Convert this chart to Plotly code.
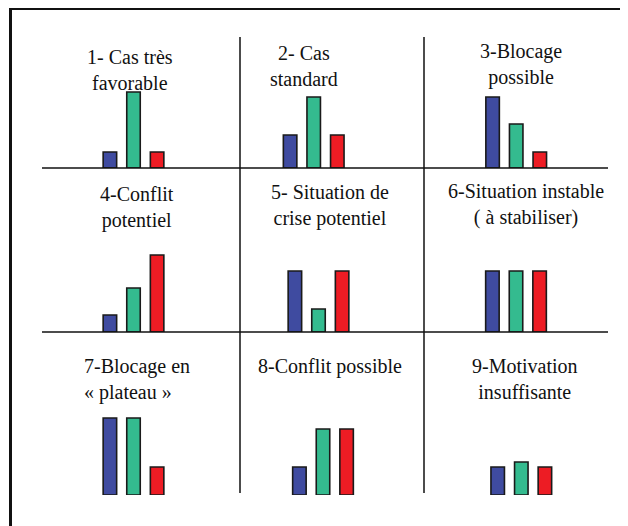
import plotly.graph_objects as go

# Données (hauteur relative des barres)
titres = [
    "1- Cas très<br>favorable",
    "2- Cas<br>standard",
    "3-Blocage<br>possible",
    "4-Conflit<br>potentiel",
    "5- Situation de<br>crise potentiel",
    "6-Situation instable<br>( à stabiliser)",
    "7-Blocage en<br>« plateau »",
    "8-Conflit possible",
    "9-Motivation<br>insuffisante",
]
bleu = [16, 33, 71, 17, 61, 61, 77, 28, 28]
vert = [76, 71, 44, 44, 23, 61, 77, 66, 33]
rouge = [16, 33, 16, 77, 61, 61, 28, 66, 28]

couleurs = ["#3f4ba0", "#34bb8f", "#ed1c24"]

# la page html ajoute une marge de 8 px autour de la figure
OX, OY = 8, 8
W, H = 628 - OX, 526 - OY


def px(x):
    return (x - OX) / W


def py(y):
    return 1 - (y - OY) / H


# mise en page (pixels de l'image de référence)
colonnes = [(42, 240), (240, 424), (424, 608)]
bases = [168, 332, 495]
centres = [133.5, 313.7, 516.2, 133.5, 318.5, 516.0, 133.5, 323.0, 521.3]
pas = 23.6
titre_pos = [
    (130, 69.5, "center"),
    (304, 65.5, "center"),
    (521, 64.5, "center"),
    (136.7, 207.5, "center"),
    (330, 205, "center"),
    (525.5, 204.5, "center"),
    (82, 379.5, "left"),
    (329.7, 366.7, "center"),
    (524.7, 379, "center"),
]

fig = go.Figure()
layout = {}
annotations = []

for i in range(9):
    ligne, col = divmod(i, 3)
    L, R = colonnes[col]
    b = bases[ligne]
    c = centres[i]
    n = "" if i == 0 else str(i + 1)

    fig.add_trace(
        go.Bar(
            x=[0, 1, 2],
            y=[bleu[i], vert[i], rouge[i]],
            width=13.5 / pas,
            marker=dict(color=couleurs, line=dict(color="#1a1a1a", width=1.6)),
            xaxis="x" + n,
            yaxis="y" + n,
            showlegend=False,
            hoverinfo="skip",
        )
    )
    layout["xaxis" + n] = dict(
        domain=[px(L), px(R)],
        range=[1 - (c - L) / pas, 1 + (R - c) / pas],
        visible=False,
        fixedrange=True,
        anchor="y" + n,
    )
    layout["yaxis" + n] = dict(
        domain=[py(b), py(b - 100)],
        range=[0, 100],
        visible=False,
        fixedrange=True,
        anchor="x" + n,
    )

    tx, ty, al = titre_pos[i]
    annotations.append(
        dict(
            text=titres[i],
            x=px(tx),
            y=py(ty),
            xref="paper",
            yref="paper",
            xanchor="center" if al == "center" else "left",
            yanchor="middle",
            align=al,
            showarrow=False,
            font=dict(family="Liberation Serif", size=20, color="#111111"),
        )
    )

# lignes de la grille et cadre
traits = [
    (240, 37, 240, 493, 1.5),
    (424, 37, 424, 493, 1.5),
    (42, 168, 608, 168, 1.5),
    (42, 332, 608, 332, 1.5),
    (9, 8.5, 628, 8.5, 3),
    (10.5, 7, 10.5, 526, 3),
]
shapes = [
    dict(
        type="line",
        xref="paper",
        yref="paper",
        x0=px(x0),
        x1=px(x1),
        y0=py(y0),
        y1=py(y1),
        line=dict(color="#111111", width=w),
    )
    for x0, y0, x1, y1, w in traits
]

fig.update_layout(
    width=W,
    height=H,
    margin=dict(l=0, r=0, t=0, b=0),
    paper_bgcolor="white",
    plot_bgcolor="rgba(0,0,0,0)",
    font=dict(family="Liberation Serif"),
    annotations=annotations,
    shapes=shapes,
    **layout,
)

fig.write_html("out.html")
